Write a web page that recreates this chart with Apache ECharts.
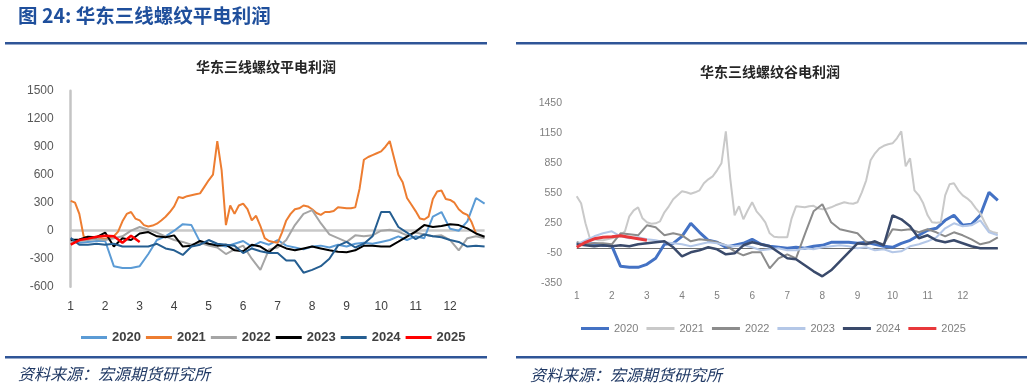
<!DOCTYPE html>
<html><head><meta charset="utf-8">
<script src="https://cdn.jsdelivr.net/npm/echarts@6/dist/echarts.min.js"></script>
<style>
html,body{margin:0;padding:0;background:#fff;width:1032px;height:387px;overflow:hidden}
#l{position:absolute;left:0;top:0;width:500px;height:387px}
#r{position:absolute;left:500px;top:0;width:532px;height:387px}
</style>
</head><body><div id="l"></div><div id="r"></div>
<script>
// ---------- data ----------
const years = ['2020','2021','2022','2023','2024','2025'];
const monthLabels = ['1','2','3','4','5','6','7','8','9','10','11','12'];

// 华东三线螺纹平电利润 (left); readings start Jan 1
const ping2020 = [-80,-130,-120,-110,-110,-380,-400,-400,-380,-250,-100,-60,0,70,60,-120,-140,-150,-170,-140,-110,-170,-120,-150,-100,-160,-180,-200,-170,-160,-180,-150,-170,-140,-130,-140,-120,-100,-60,-100,-60,-80,150,200,20,0,100,350,290];
const ping2021 = [320,300,180,-60,-80,-90,-90,-80,-90,-70,-60,-10,100,180,200,130,110,60,45,55,75,110,150,200,260,360,350,370,380,390,400,470,540,600,960,650,60,270,180,270,290,230,110,160,50,-80,-110,-120,-130,-20,110,180,230,240,270,260,230,190,170,200,200,210,250,245,240,240,250,450,760,790,810,830,850,900,960,780,600,520,350,280,210,130,120,150,340,420,430,340,330,300,230,190,170,90,-30];
const ping2022 = [-120,-110,-100,-90,-100,-80,-60,0,40,10,-20,-60,-100,-120,-150,-130,-160,-180,-250,-200,-160,-300,-420,-200,-180,-100,60,180,220,80,-40,-80,-120,-50,-60,-50,0,10,-10,-50,-20,-40,-60,-50,-100,-210,-80,-60,-80];
const ping2023 = [-100,-95,-65,-70,-20,-170,-80,-100,-30,-15,-60,-70,-50,-170,-160,-110,-140,-160,-150,-210,-220,-150,-170,-230,-150,-190,-210,-190,-170,-190,-210,-225,-230,-210,-160,-160,-170,-170,-118,-64,-10,60,40,50,70,60,25,-30,-65];
const ping2024 = [-80,-150,-150,-140,-150,-140,-170,-170,-170,-170,-140,-190,-210,-260,-170,-150,-100,-140,-150,-160,-240,-190,-220,-240,-240,-320,-320,-450,-420,-380,-300,-160,-120,-180,-140,-60,200,200,40,-20,-90,-40,-60,-70,-100,-120,-170,-160,-170];
const ping2025 = [-150,-100,-85,-65,-55,-60,-130,-55,-120];
const pingPointsPerMonth = [4,8,4,4,4,4];

// 华东三线螺纹谷电利润 (right)
const gu2020 = [50,40,45,30,25,-180,-190,-190,-160,-100,40,50,120,250,160,80,60,10,30,50,90,40,20,10,0,10,0,20,30,60,60,60,50,60,40,20,10,50,80,130,180,200,280,330,230,240,330,560,480];
const gu2021 = [520,450,250,100,90,80,80,90,100,110,130,170,320,380,410,300,260,245,250,270,360,420,490,530,570,560,545,560,580,650,690,720,780,850,1170,700,330,420,290,380,460,370,320,260,150,115,110,110,110,300,420,415,410,420,425,400,390,395,410,430,445,460,450,445,460,560,680,880,950,1000,1025,1040,1050,1100,1170,820,900,580,530,450,330,260,255,260,530,640,650,580,530,500,460,400,350,260,180,160,150];
const gu2022 = [60,40,50,50,40,150,140,130,230,210,130,150,130,70,90,80,60,30,-30,-70,-40,-40,-200,-100,-60,-100,140,370,440,260,190,170,150,60,60,40,190,180,190,160,190,160,120,160,130,90,40,60,110];
const gu2023 = [40,80,120,150,170,120,100,110,90,80,60,50,40,20,40,60,50,30,20,30,10,-20,-10,0,-20,-20,0,-10,10,20,30,20,0,10,-20,-10,-40,-30,20,40,70,110,200,250,220,230,280,160,130];
const gu2024 = [40,30,20,30,20,30,20,40,50,60,70,10,-80,-40,-20,10,-10,-60,-50,30,60,40,20,-40,-100,-110,-170,-230,-280,-220,-130,-40,50,40,70,30,330,290,220,100,130,80,60,80,50,20,0,0,0];
const gu2025 = [10,60,95,110,115,125,110,95,80];
const guPointsPerMonth = [4,8,4,4,4,4];

const pingSeries = [ping2020, ping2021, ping2022, ping2023, ping2024, ping2025];
const guSeries = [gu2020, gu2021, gu2022, gu2023, gu2024, gu2025];

// ---------- build ----------
function toXY(arr, ppm){ return arr.map((v,i)=>[1 + i/ppm, v]); }
const CJK = '"Noto Sans CJK SC"';
const LAT = '"Liberation Sans", Arial, sans-serif';

function buildSeries(list, ppms, colors, widths, zeroStyle){
  return list.map((arr, i) => {
    const s = {
      name: years[i], type:'line', data: toXY(arr, ppms[i]), showSymbol:false, symbol:'none',
      smooth:false, color: colors[i], lineStyle:{color:colors[i], width:widths[i]},
      emphasis:{disabled:true}, silent:true, z: 2 + i
    };
    if (i === 0) {
      s.markLine = {silent:true, symbol:['none','none'], label:{show:false},
        lineStyle: zeroStyle, data:[{yAxis:0}], emphasis:{disabled:true}, z:1};
    }
    return s;
  });
}

// left chart
const left = echarts.init(document.getElementById('l'), null, {renderer:'canvas'});
const leftColors = ['#5B9BD5','#ED7D31','#A5A5A5','#000000','#255E91','#FF0000'];
left.setOption({
  animation:false,
  backgroundColor:'#fff',
  grid:{left:70.7, right:15.4, top:90.7, bottom:100.3},
  xAxis:{type:'value', min:1, max:13, interval:1,
    axisLine:{show:false}, axisTick:{show:false}, splitLine:{show:false},
    axisLabel:{margin:14, color:'#404040', fontSize:12, fontFamily:LAT,
      formatter:v => (v >= 1 && v <= 12) ? monthLabels[v-1] : ''}},
  yAxis:{type:'value', min:-600, max:1500, interval:300,
    axisLine:{show:true, lineStyle:{color:'#C4C4C4', width:2.5}},
    axisTick:{show:false}, splitLine:{show:false},
    axisLabel:{margin:17, color:'#595959', fontSize:12, fontFamily:LAT, formatter:v => String(v)}},
  legend:{left:76, top:326, itemWidth:26, itemHeight:3, itemGap:5, icon:'rect',
    selectedMode:false, data:years,
    textStyle:{fontSize:13, fontWeight:'bold', color:'#404040', fontFamily:LAT}},
  series: buildSeries(pingSeries, pingPointsPerMonth, leftColors, [2,2,2,2,2,2.5], {color:'#C8C8C8', width:2.5, type:'solid'}),
  graphic:[
    {type:'text', x:18, y:16, style:{text:'图 24: 华东三线螺纹平电利润', fontFamily:CJK, fontWeight:'bold', fontSize:19.5, fill:'#1F4F9C', align:'left', verticalAlign:'middle'}},
    {type:'rect', shape:{x:5, y:42, width:482, height:2.5}, style:{fill:'#2F5597'}},
    {type:'text', x:266, y:67, style:{text:'华东三线螺纹平电利润', fontFamily:CJK, fontWeight:'bold', fontSize:14, fill:'#262626', align:'center', verticalAlign:'middle'}},
    {type:'rect', shape:{x:5, y:356, width:482, height:2.5}, style:{fill:'#2F5597'}},
    {type:'text', x:18, y:374, style:{text:'资料来源：宏源期货研究所', fontFamily:CJK, fontStyle:'italic', fontSize:16, fill:'#1F3864', align:'left', verticalAlign:'middle'}}
  ]
});

// right chart
const right = echarts.init(document.getElementById('r'), null, {renderer:'canvas'});
const rightColors = ['#4472C4','#C9C9C9','#8C8C8C','#B4C7E7','#3A4A6B','#E8383B'];
right.setOption({
  animation:false,
  backgroundColor:'#fff',
  grid:{left:76.7, right:34.2, top:103.3, bottom:103.7},
  xAxis:{type:'value', min:1, max:13, interval:1,
    axisLine:{show:false}, axisTick:{show:false}, splitLine:{show:false},
    axisLabel:{margin:8, color:'#7F7F7F', fontSize:10, fontFamily:LAT,
      formatter:v => (v >= 1 && v <= 12) ? monthLabels[v-1] : ''}},
  yAxis:{type:'value', min:-350, max:1450, interval:300,
    axisLine:{show:false}, axisTick:{show:false}, splitLine:{show:false},
    axisLabel:{margin:14.7, color:'#7F7F7F', fontSize:10.5, fontFamily:LAT, formatter:v => String(v)}},
  legend:{left:76, top:318, itemWidth:28, itemHeight:3, itemGap:8, icon:'rect',
    selectedMode:false, data:years,
    textStyle:{fontSize:11, color:'#7F7F7F', fontFamily:LAT}},
  series: buildSeries(guSeries, guPointsPerMonth, rightColors, [3,2,2,2,2.5,3], {color:'#6E6E6E', width:1, type:'solid'}),
  graphic:[
    {type:'rect', shape:{x:16, y:42, width:511, height:2.5}, style:{fill:'#2F5597'}},
    {type:'text', x:270, y:72, style:{text:'华东三线螺纹谷电利润', fontFamily:CJK, fontWeight:'bold', fontSize:14, fill:'#262626', align:'center', verticalAlign:'middle'}},
    {type:'rect', shape:{x:16, y:356, width:511, height:2.5}, style:{fill:'#2F5597'}},
    {type:'text', x:30, y:375, style:{text:'资料来源：宏源期货研究所', fontFamily:CJK, fontStyle:'italic', fontSize:16, fill:'#1F3864', align:'left', verticalAlign:'middle'}}
  ]
});
</script>
</body></html>
